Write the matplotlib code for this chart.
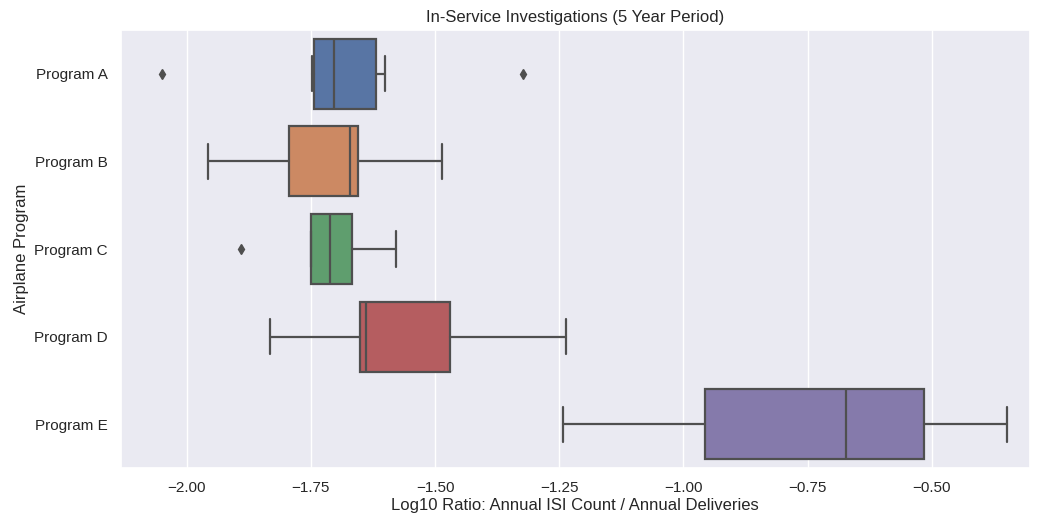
import matplotlib
matplotlib.use("Agg")
import matplotlib.pyplot as plt
import seaborn as sns

sns.set_theme(style="darkgrid")
plt.rcParams['font.family'] = ['Liberation Sans', 'DejaVu Sans']

programs = ["Program A", "Program B", "Program C", "Program D", "Program E"]
whislo = [-1.747, -1.957, -1.750, -1.832, -1.242]
q1 = [-1.744, -1.794, -1.750, -1.650, -0.957]
med = [-1.704, -1.671, -1.712, -1.639, -0.672]
q3 = [-1.618, -1.655, -1.668, -1.469, -0.516]
whishi = [-1.600, -1.485, -1.579, -1.237, -0.349]
fliers = [[-2.050, -1.323], [], [-1.891], [], []]
colors = ["#5875a4", "#cc8963", "#5f9e6e", "#b55d60", "#857aab"]

fig = plt.figure(figsize=(10.39, 5.22), dpi=100)
ax = fig.add_axes([0.1165, 0.1034, 0.8745, 0.8391])

stats = []
for i, p in enumerate(programs):
    stats.append(dict(label=p, whislo=whislo[i], q1=q1[i], med=med[i],
                      q3=q3[i], whishi=whishi[i], fliers=fliers[i]))

gray = "#4f4f4f"
lw = 1.6
positions = list(range(len(programs)))
bp = ax.bxp(stats, positions=positions, vert=False, widths=0.8, patch_artist=True,
            boxprops=dict(edgecolor=gray, linewidth=lw),
            medianprops=dict(color=gray, linewidth=lw),
            whiskerprops=dict(color=gray, linewidth=lw),
            capprops=dict(color=gray, linewidth=lw),
            flierprops=dict(marker="d", markerfacecolor=gray, markeredgecolor=gray,
                            markersize=5, linestyle="none"))
for patch, c in zip(bp["boxes"], colors):
    patch.set_facecolor(c)

ax.set_ylim(4.5, -0.5)
ax.set_xlim(-2.132, -0.303)
ax.set_yticks(positions)
ax.set_yticklabels(programs)
ax.set_xticks([-2.0, -1.75, -1.5, -1.25, -1.0, -0.75, -0.5])
ax.set_xticklabels(["\u22122.00", "\u22121.75", "\u22121.50", "\u22121.25", "\u22121.00", "\u22120.75", "\u22120.50"])
ax.tick_params(labelsize=11)
ax.grid(axis="y", visible=False)
ax.set_xlabel("Log10 Ratio: Annual ISI Count / Annual Deliveries", fontsize=12, labelpad=2)
ax.set_ylabel("Airplane Program", fontsize=12, labelpad=4)
ax.set_title("In-Service Investigations (5 Year Period)", fontsize=12, pad=6)

fig.savefig("out.png", dpi=100)
